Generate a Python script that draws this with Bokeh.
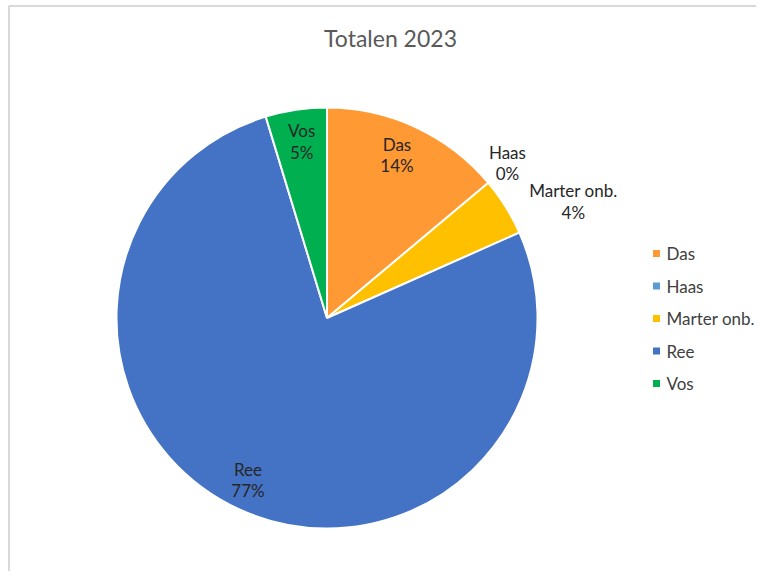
import math
from bokeh.plotting import figure
from bokeh.models import Range1d, ColumnDataSource
from bokeh.core.properties import value
from bokeh.embed import file_html
from bokeh.resources import INLINE

# ---- data ----
title_text = "Totalen 2023"
categories = ["Das", "Haas", "Marter onb.", "Ree", "Vos"]
values = [13.9, 0.0, 4.45, 76.95, 4.7]
colors = ["#FF9933", "#5B9BD5", "#FFC000", "#4472C4", "#00B050"]

# ---- layout / style ----
W, H = 756, 571          # figure size
PX0, PY0 = 0, 0          # image offset of figure
CX, CY, R = 326.5, 317.5, 210.5   # pie centre / radius in image px
FONT = "Lato"
LABEL_SIZE = "17px"
LINE_GAP = 21.5
# per-label (radius factor, angle nudge in degrees, clockwise)
label_place = {
    "Das": (0.843, -1.8),
    "Haas": (1.13, -0.7),
    "Marter onb.": (1.295, 6.6),
    "Ree": (0.857, 1.4),
    "Vos": (0.847, 0.3),
}
LEG_X, LEG_Y0, LEG_DY = 656, 253, 32.5

def dx(px):
    return px - CX

def dy(py):
    return CY - py

p = figure(width=W, height=H, output_backend="svg", toolbar_location=None,
           x_range=Range1d(dx(PX0), dx(PX0 + W)),
           y_range=Range1d(dy(PY0 + H), dy(PY0)),
           min_border=0, min_border_left=0, min_border_right=0,
           min_border_top=0, min_border_bottom=0)
p.axis.visible = False
p.grid.visible = False
p.outline_line_color = None
p.background_fill_color = "white"
p.border_fill_color = "white"

# chart border (left + top)
p.line(x=[dx(8.5), dx(8.5), dx(PX0 + W)], y=[dy(PY0 + H), dy(5.5), dy(5.5)],
       line_color="#D9D9D9", line_width=2)

# wedges
total = sum(values)
starts, ends, wc, mids = [], [], [], []
cum = 0.0
for cat, v, c in zip(categories, values, colors):
    f0 = cum / total
    cum += v
    f1 = cum / total
    mids.append((f0 + f1) / 2)
    if v > 0:
        starts.append(math.pi / 2 - f0 * 2 * math.pi)
        ends.append(math.pi / 2 - f1 * 2 * math.pi)
        wc.append(c)
src = ColumnDataSource(dict(start=starts, end=ends, color=wc))
p.wedge(x=0, y=0, radius=R, start_angle="start", end_angle="end",
        direction="clock", fill_color="color", line_color="white",
        line_width=2, source=src)

# data labels
lx1, ly1, lx2, ly2, t1, t2 = [], [], [], [], [], []
for cat, v, m in zip(categories, values, mids):
    rf, da = label_place[cat]
    ang = math.radians(m * 360 + da)
    x = R * rf * math.sin(ang)
    y = R * rf * math.cos(ang)
    lx1.append(x); ly1.append(y + LINE_GAP / 2); t1.append(cat)
    lx2.append(x); ly2.append(y - LINE_GAP / 2)
    t2.append(f"{v / total * 100:.0f}%")
p.text(x=lx1, y=ly1, text=t1, text_font=value(FONT), text_font_size=LABEL_SIZE,
       text_color="#262626", text_align="center", text_baseline="middle")
p.text(x=lx2, y=ly2, text=t2, text_font=value(FONT), text_font_size=LABEL_SIZE,
       text_color="#262626", text_align="center", text_baseline="middle")

# title
p.text(x=[dx(390)], y=[dy(37)], text=[title_text], text_font=value(FONT),
       text_font_size="23px", text_color="#595959", text_align="center",
       text_baseline="middle")

# legend
ly = [dy(LEG_Y0 + i * LEG_DY) for i in range(len(categories))]
p.scatter(x=[dx(LEG_X)] * len(categories), y=ly, marker="square", size=7,
          fill_color=colors, line_color=None)
p.text(x=[dx(LEG_X + 10)] * len(categories), y=ly, text=categories,
       text_font=value(FONT), text_font_size=LABEL_SIZE, text_color="#404040",
       text_align="left", text_baseline="middle")

open("out.html", "w").write(file_html(p, INLINE))
